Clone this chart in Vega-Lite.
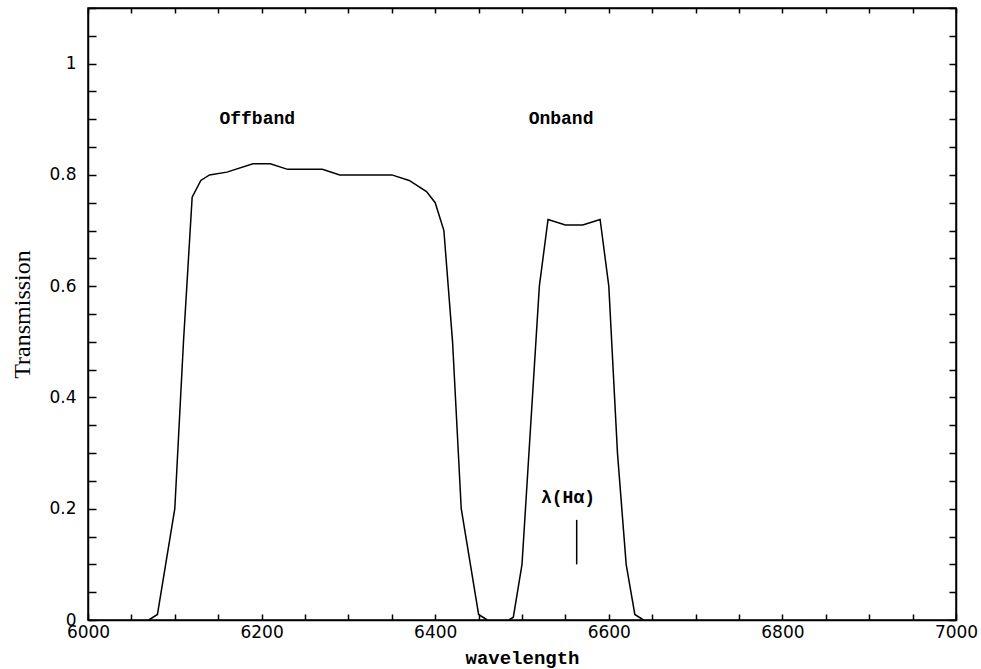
{
  "$schema": "https://vega.github.io/schema/vega-lite/v6.json",
  "width": 868,
  "height": 612,
  "autosize": {"type": "none"},
  "padding": {"left": 88, "top": 8, "right": 25, "bottom": 49},
  "background": "white",
  "config": {
    "view": {"stroke": "black", "strokeWidth": 1.5},
    "axis": {
      "domainColor": "black",
      "domainWidth": 1.5,
      "tickColor": "black",
      "tickWidth": 1.5,
      "ticks": true,
      "grid": false,
      "labelColor": "black",
      "labelFont": "DejaVu Sans",
      "labelFontSize": 17,
      "titleColor": "black"
    }
  },
  "datasets": {
    "curves": [
      {"band": "Offband", "wavelength": 6070, "transmission": 0},
      {"band": "Offband", "wavelength": 6080, "transmission": 0.01},
      {"band": "Offband", "wavelength": 6100, "transmission": 0.2},
      {"band": "Offband", "wavelength": 6110, "transmission": 0.5},
      {"band": "Offband", "wavelength": 6120, "transmission": 0.76},
      {"band": "Offband", "wavelength": 6130, "transmission": 0.79},
      {"band": "Offband", "wavelength": 6140, "transmission": 0.8},
      {"band": "Offband", "wavelength": 6160, "transmission": 0.805},
      {"band": "Offband", "wavelength": 6190, "transmission": 0.82},
      {"band": "Offband", "wavelength": 6210, "transmission": 0.82},
      {"band": "Offband", "wavelength": 6230, "transmission": 0.81},
      {"band": "Offband", "wavelength": 6270, "transmission": 0.81},
      {"band": "Offband", "wavelength": 6290, "transmission": 0.8},
      {"band": "Offband", "wavelength": 6350, "transmission": 0.8},
      {"band": "Offband", "wavelength": 6370, "transmission": 0.79},
      {"band": "Offband", "wavelength": 6390, "transmission": 0.77},
      {"band": "Offband", "wavelength": 6400, "transmission": 0.75},
      {"band": "Offband", "wavelength": 6410, "transmission": 0.7},
      {"band": "Offband", "wavelength": 6420, "transmission": 0.5},
      {"band": "Offband", "wavelength": 6430, "transmission": 0.2},
      {"band": "Offband", "wavelength": 6450, "transmission": 0.01},
      {"band": "Offband", "wavelength": 6460, "transmission": 0},
      {"band": "Onband", "wavelength": 6485, "transmission": 0},
      {"band": "Onband", "wavelength": 6490, "transmission": 0.005},
      {"band": "Onband", "wavelength": 6500, "transmission": 0.1},
      {"band": "Onband", "wavelength": 6520, "transmission": 0.6},
      {"band": "Onband", "wavelength": 6530, "transmission": 0.72},
      {"band": "Onband", "wavelength": 6550, "transmission": 0.71},
      {"band": "Onband", "wavelength": 6570, "transmission": 0.71},
      {"band": "Onband", "wavelength": 6590, "transmission": 0.72},
      {"band": "Onband", "wavelength": 6600, "transmission": 0.6},
      {"band": "Onband", "wavelength": 6610, "transmission": 0.3},
      {"band": "Onband", "wavelength": 6620, "transmission": 0.1},
      {"band": "Onband", "wavelength": 6630, "transmission": 0.01},
      {"band": "Onband", "wavelength": 6640, "transmission": 0}
    ],
    "marker": [
      {"wavelength": 6563, "low": 0.1, "high": 0.18}
    ],
    "labels": [
      {"wavelength": 6195, "transmission": 0.9, "text": "Offband"},
      {"wavelength": 6545, "transmission": 0.9, "text": "Onband"},
      {"wavelength": 6553, "transmission": 0.22, "text": "λ(Hα)"}
    ]
  },
  "layer": [
    {
      "data": {"name": "curves"},
      "mark": {"type": "line", "color": "black", "strokeWidth": 1.5},
      "encoding": {
        "x": {
          "field": "wavelength", "type": "quantitative",
          "scale": {"domain": [6000, 7000], "nice": false, "zero": false},
          "axis": {
            "orient": "bottom",
            "values": [6000,6050,6100,6150,6200,6250,6300,6350,6400,6450,6500,6550,6600,6650,6700,6750,6800,6850,6900,6950,7000],
            "format": "d",
            "labelExpr": "datum.value % 200 == 0 ? datum.label : ''",
            "tickSize": -6,
            "encode": {"ticks": {"update": {"y2": {"signal": "datum.value % 200 == 0 ? -9 : -6"}}}},
            "labelPadding": 10,
            "labelFlush": false,
            "labelOverlap": false,
            "title": "wavelength",
            "titleFont": "Liberation Mono",
            "titleFontSize": 19,
            "titleFontWeight": "bold",
            "titleBaseline": "alphabetic",
            "titleY": 43
          }
        },
        "y": {
          "field": "transmission", "type": "quantitative",
          "scale": {"domain": [0, 1.1], "nice": false},
          "axis": {
            "orient": "left",
            "values": [0,0.05,0.1,0.15,0.2,0.25,0.3,0.35,0.4,0.45,0.5,0.55,0.6,0.65,0.7,0.75,0.8,0.85,0.9,0.95,1,1.05,1.1],
            "labelExpr": "abs(datum.value*5 - round(datum.value*5)) < 0.001 ? format(datum.value, '~g') : ''",
            "tickSize": -8,
            "encode": {"ticks": {"update": {"x2": {"signal": "abs(datum.value*5 - round(datum.value*5)) < 0.001 ? 14 : 8"}}}},
            "labelPadding": 20,
            "labelFlush": false,
            "labelOverlap": false,
            "title": "Transmission",
            "titleFont": "Liberation Serif",
            "titleFontSize": 24,
            "titleFontWeight": "normal",
            "titleAngle": -90,
            "titleBaseline": "middle",
            "titleAlign": "center",
            "titleX": -66,
            "titleY": 306
          }
        },
        "detail": {"field": "band"}
      }
    },
    {
      "data": {"name": "marker"},
      "mark": {"type": "rule", "color": "black", "strokeWidth": 1.5},
      "encoding": {
        "x": {
          "field": "wavelength", "type": "quantitative",
          "axis": {
            "orient": "top",
            "values": [6000,6050,6100,6150,6200,6250,6300,6350,6400,6450,6500,6550,6600,6650,6700,6750,6800,6850,6900,6950,7000],
            "labels": false,
            "title": null,
            "tickSize": -5,
            "encode": {"ticks": {"update": {"y2": {"signal": "datum.value % 200 == 0 ? 9 : 5"}}}}
          }
        },
        "y": {
          "field": "low", "type": "quantitative",
          "axis": {
            "orient": "right",
            "values": [0,0.05,0.1,0.15,0.2,0.25,0.3,0.35,0.4,0.45,0.5,0.55,0.6,0.65,0.7,0.75,0.8,0.85,0.9,0.95,1,1.05,1.1],
            "labels": false,
            "title": null,
            "tickSize": -7,
            "encode": {"ticks": {"update": {"x2": {"signal": "abs(datum.value*5 - round(datum.value*5)) < 0.001 ? -15 : -7"}}}}
          }
        },
        "y2": {"field": "high"}
      }
    },
    {
      "data": {"name": "labels"},
      "mark": {"type": "text", "font": "Liberation Mono", "fontSize": 18, "fontWeight": "bold", "color": "black", "align": "center", "baseline": "middle"},
      "encoding": {
        "x": {"field": "wavelength", "type": "quantitative", "axis": null},
        "y": {"field": "transmission", "type": "quantitative", "axis": null},
        "text": {"field": "text"}
      }
    }
  ],
  "resolve": {"axis": {"x": "independent", "y": "independent"}}
}
